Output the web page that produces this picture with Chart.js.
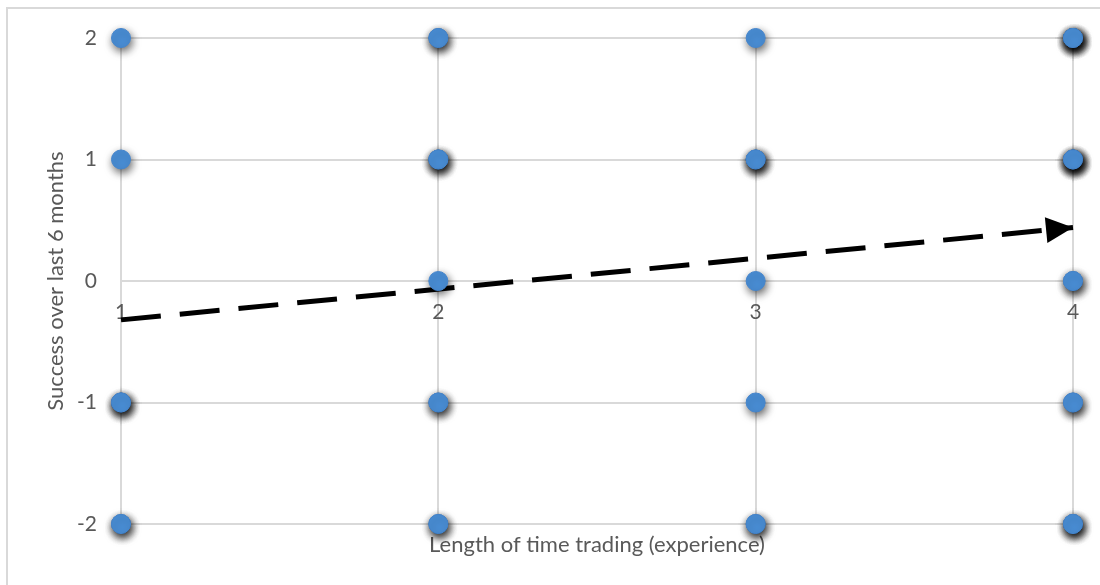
<!DOCTYPE html>
<html>
<head>
<meta charset="utf-8">
<script src="https://cdn.jsdelivr.net/npm/chart.js@4/dist/chart.umd.min.js"></script>
<style>
  html, body { margin: 0; padding: 0; background: #ffffff; }
  #wrap { position: relative; width: 1100px; height: 585px; }
</style>
</head>
<body>
<div id="wrap"><canvas id="chart" width="1100" height="585"></canvas></div>
<script>
// Survey responses: trading experience level vs. success score (one entry per respondent)
const experience = [
  1, 1, 1, 1, 1, 1, 1,
  2, 2, 2, 2, 2, 2, 2, 2, 2, 2,
  3, 3, 3, 3, 3, 3, 3, 3,
  4, 4, 4, 4, 4, 4, 4, 4, 4, 4, 4, 4, 4, 4, 4, 4, 4
];
const success = [
  2, 1, -1, -1, -1, -2, -2,
  2, 2, 1, 1, 1, 0, -1, -1, -2, -2,
  2, 1, 1, 1, 0, -1, -2, -2,
  2, 2, 2, 2, 2, 1, 1, 1, 1, 1, 0, 0, -1, -1, -2, -2, -2
];

// Trend line end points (experience, success)
const trendX = [1, 4];
const trendY = [-0.32, 0.44];

// Axis tick values
const xTicks = [1, 2, 3, 4];
const yTicks = [-2, -1, 0, 1, 2];

const xTitle = 'Length of time trading (experience)';
const yTitle = 'Success over last 6 months';

const FONT = 'Lato, "Open Sans", "DejaVu Sans", sans-serif';
const TEXT = '#595959';
const GRID = '#d9d9d9';

const points = experience.map((x, i) => ({ x: x, y: success[i] }));
const trend = trendX.map((x, i) => ({ x: x, y: trendY[i] }));

// Soft drop shadow under each marker; stacked markers build darker shadows
const markerShadow = {
  id: 'markerShadow',
  beforeDatasetDraw(chart, args) {
    if (args.index !== 0) return;
    const ctx = chart.ctx;
    ctx.save();
    ctx.shadowColor = 'rgba(0,0,0,0.62)';
    ctx.shadowBlur = 9;
    ctx.shadowOffsetX = 1.5;
    ctx.shadowOffsetY = 3.5;
  },
  afterDatasetDraw(chart, args) {
    if (args.index !== 0) return;
    chart.ctx.restore();
  }
};

// Arrow head at the end of the trend line
const trendArrow = {
  id: 'trendArrow',
  afterDatasetsDraw(chart) {
    const meta = chart.getDatasetMeta(1);
    if (!meta || meta.data.length < 2) return;
    const a = meta.data[meta.data.length - 2];
    const b = meta.data[meta.data.length - 1];
    const ang = Math.atan2(b.y - a.y, b.x - a.x);
    const len = 27, half = 13;
    const ctx = chart.ctx;
    ctx.save();
    ctx.translate(b.x, b.y);
    ctx.rotate(ang);
    ctx.fillStyle = '#000000';
    ctx.beginPath();
    ctx.moveTo(0, 0);
    ctx.lineTo(-len, -half);
    ctx.lineTo(-len, half);
    ctx.closePath();
    ctx.fill();
    ctx.restore();
  }
};

// Light frame around the chart
const frame = {
  id: 'frame',
  beforeDraw(chart) {
    const ctx = chart.ctx;
    ctx.save();
    ctx.strokeStyle = GRID;
    ctx.lineWidth = 2;
    ctx.strokeRect(7, 8, 1200, 700);
    ctx.restore();
  }
};

new Chart(document.getElementById('chart'), {
  type: 'scatter',
  data: {
    datasets: [
      {
        data: points,
        backgroundColor: '#4a8fd7',
        borderColor: '#4585cc',
        borderWidth: 1,
        pointRadius: 9.5,
        pointHoverRadius: 9.5,
        clip: false
      },
      {
        type: 'line',
        data: trend,
        borderColor: '#000000',
        borderWidth: 5,
        borderDash: [40, 19],
        borderCapStyle: 'butt',
        pointRadius: 0,
        fill: false,
        tension: 0,
        clip: false
      }
    ]
  },
  options: {
    responsive: false,
    animation: false,
    events: [],
    layout: { padding: { left: 0, right: 27, top: 38, bottom: 26.6 } },
    plugins: {
      legend: { display: false },
      tooltip: { enabled: false },
      title: {
        display: true,
        text: xTitle,
        position: 'bottom',
        fullSize: false,
        color: TEXT,
        font: { family: FONT, size: 22, weight: 'normal' },
        padding: { top: 8, bottom: 0 }
      }
    },
    scales: {
      x: {
        type: 'linear',
        position: { y: 0 },
        min: 1,
        max: 4,
        afterBuildTicks(scale) { scale.ticks = xTicks.map(v => ({ value: v })); },
        afterFit(scale) {
          scale.height = 0;
          scale.paddingLeft = 0;
          scale.paddingRight = 0;
        },
        ticks: {
          color: TEXT,
          font: { family: FONT, size: 21 },
          padding: 19,
          maxRotation: 0
        },
        grid: { color: GRID, lineWidth: 2, drawTicks: false },
        border: { display: false }
      },
      y: {
        type: 'linear',
        position: 'left',
        min: -2,
        max: 2,
        afterBuildTicks(scale) { scale.ticks = yTicks.map(v => ({ value: v })); },
        afterFit(scale) {
          scale.width = 121;
          scale.paddingTop = 0;
          scale.paddingBottom = 0;
        },
        ticks: {
          color: TEXT,
          font: { family: FONT, size: 21 },
          padding: 24
        },
        title: {
          display: true,
          text: yTitle,
          color: TEXT,
          font: { family: FONT, size: 22, weight: 'normal' },
          padding: { top: 43, bottom: 0 }
        },
        grid: { color: GRID, lineWidth: 2, drawTicks: false },
        border: { display: false }
      }
    }
  },
  plugins: [frame, markerShadow, trendArrow]
});
</script>
</body>
</html>
